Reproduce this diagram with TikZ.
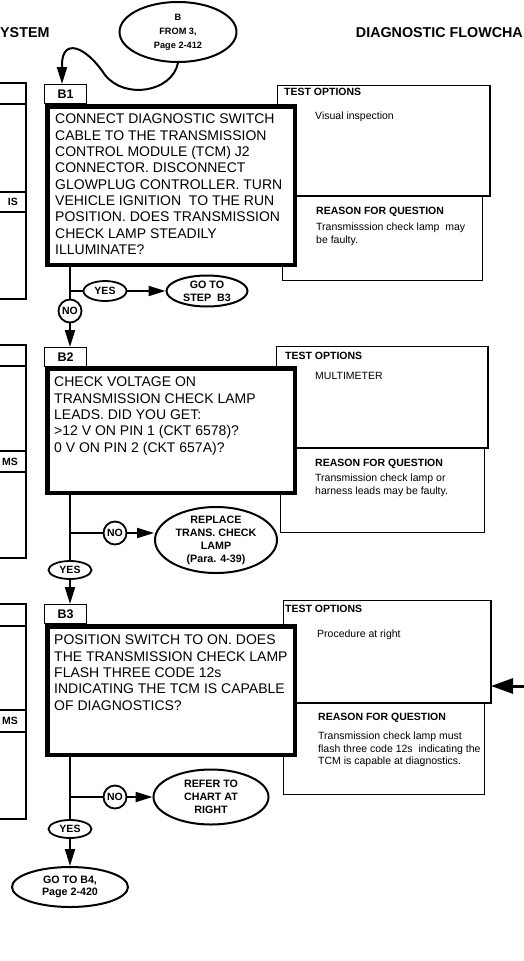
\documentclass[tikz,border=0pt]{standalone}
\usepackage{fontspec}
\setmainfont{Liberation Sans}
\usetikzlibrary{arrows.meta,shapes.geometric}
\begin{document}
\begin{tikzpicture}[x=1pt,y=-1pt,
  hdr/.style={inner sep=0pt, font=\fontsize{14.3}{16}\selectfont\bfseries},
  side/.style={line width=1.3pt},
  sidetext/.style={inner sep=0pt, anchor=east, font=\fontsize{10.5}{12}\selectfont\bfseries},
  mainbox/.style={draw, line width=4.5pt, fill=white, inner sep=0pt, anchor=north west, minimum width=247.5pt},
  labbox/.style={draw, line width=1.3pt, fill=white, inner sep=0pt, minimum width=41.7pt, minimum height=18.7pt, anchor=north west, font=\fontsize{12.5}{14}\selectfont\bfseries},
  maintext/.style={inner sep=0pt, anchor=north west, align=left, font=\fontsize{14}{16.3}\selectfont},
  optbox/.style={draw, line width=1.4pt, fill=white, inner sep=0pt, anchor=north west},
  optedge/.style={line width=2.4pt},
  opttitle/.style={inner sep=0pt, anchor=north west, font=\fontsize{10.5}{12.5}\selectfont\bfseries},
  opttext/.style={inner sep=0pt, anchor=north west, align=left, font=\fontsize{10.5}{12.5}\selectfont},
  oval/.style={ellipse, draw, line width=2pt, fill=white, inner sep=0pt},
  ovaltext/.style={inner sep=0pt, align=center, font=\fontsize{10.7}{13}\selectfont\bfseries},
  yesoval/.style={ellipse, draw, line width=1.8pt, fill=white, inner sep=0pt, minimum width=43pt, minimum height=20pt, font=\fontsize{10.5}{12}\selectfont\bfseries},
  nocirc/.style={circle, draw, line width=1.8pt, fill=white, inner sep=0pt, minimum size=23pt, font=\fontsize{10.5}{12}\selectfont\bfseries},
  conn/.style={line width=2pt},
  arr/.style={conn, -{Triangle[length=17pt,width=10pt]}},
  bigarr/.style={line width=3pt, -{Triangle[length=22pt,width=15pt]}}
]
\useasboundingbox (0,0) rectangle (524,961);

% headers
\node[hdr, anchor=west] (hl) at (0,33) {YSTEM};
\node[hdr, anchor=east] (hr) at (523,33) {DIAGNOSTIC FLOWCHA};

% left partial boxes
\draw[side] (0,83) -- (26,83) -- (26,299) -- (0,299);
\draw[side] (0,104) -- (26,104) (0,192) -- (26,192) (0,212) -- (26,212);
\node[sidetext] (s1) at (18,202) {IS};
\draw[side] (0,345) -- (26,345) -- (26,558) -- (0,558);
\draw[side] (0,366) -- (26,366) (0,451) -- (26,451) (0,472) -- (26,472);
\node[sidetext] (s2) at (18,462) {MS};
\draw[side] (0,604) -- (26,604) -- (26,819) -- (0,819);
\draw[side] (0,626) -- (26,626) (0,710) -- (26,710) (0,732) -- (26,732);
\node[sidetext] (s3) at (18,721) {MS};

% option boxes
\node[optbox, minimum width=199.6pt, minimum height=83.6pt] (r1) at (282,196) {};
\node[optbox, minimum width=211.6pt, minimum height=109.6pt] (t1) at (277,85) {};
\draw[optedge] (t1.north east) -- (t1.south east) -- (t1.south west);
\node[optbox, minimum width=203.6pt, minimum height=83.6pt] (r2) at (280,448) {};
\node[optbox, minimum width=210.6pt, minimum height=100.6pt] (t2) at (276,346) {};
\draw[optedge] (t2.north east) -- (t2.south east) -- (t2.south west);
\node[optbox, minimum width=200.6pt, minimum height=90.6pt] (r3) at (283,703) {};
\node[optbox, minimum width=206.6pt, minimum height=101.6pt] (t3) at (283,600) {};
\draw[optedge] (t3.north east) -- (t3.south east) -- (t3.south west);

\node[opttitle] (t1h) at (284,88) {TEST OPTIONS};
\node[opttext] (t1c) at (315,112) {Visual inspection};
\node[opttitle] (r1h) at (316,207) {REASON FOR QUESTION};
\node[opttext] (r1c) at (316,223) {Transmisssion check lamp\ \ may\\be faulty.};

\node[opttitle] (t2h) at (285,352) {TEST OPTIONS};
\node[opttext] (t2c) at (315,372) {MULTIMETER};
\node[opttitle] (r2h) at (315,459) {REASON FOR QUESTION};
\node[opttext] (r2c) at (315,474) {Transmission check lamp or\\harness leads may be faulty.};

\node[opttitle] (t3h) at (285,605) {TEST OPTIONS};
\node[opttext] (t3c) at (317,630) {Procedure at right};
\node[opttitle] (r3h) at (318,713) {REASON FOR QUESTION};
\node[opttext] (r3c) at (318,732) {Transmission check lamp must\\flash three code 12s\ \ indicating the\\TCM is capable at diagnostics.};

% step labels and main boxes
\node[labbox] (b1lab) at (44,84) {B1};
\node[mainbox, minimum height=158.5pt] (b1) at (45,104) {};
\node[labbox] (b2lab) at (44,347) {B2};
\node[mainbox, minimum height=124.5pt] (b2) at (45,366) {};
\node[labbox] (b3lab) at (44,604) {B3};
\node[mainbox, minimum height=128.5pt] (b3) at (45,624) {};

\node[maintext] (b1t) at (55,114) {CONNECT DIAGNOSTIC SWITCH\\CABLE TO THE TRANSMISSION\\CONTROL MODULE (TCM) J2\\CONNECTOR. DISCONNECT\\GLOWPLUG CONTROLLER. TURN\\VEHICLE IGNITION\ \ TO THE RUN\\POSITION. DOES TRANSMISSION\\CHECK LAMP STEADILY\\ILLUMINATE?};
\node[maintext] (b2t) at (54,377) {CHECK VOLTAGE ON\\TRANSMISSION CHECK LAMP\\LEADS. DID YOU GET:\\>12 V ON PIN 1 (CKT 6578)?\\0 V ON PIN 2 (CKT 657A)?};
\node[maintext] (b3t) at (54,635) {POSITION SWITCH TO ON. DOES\\THE TRANSMISSION CHECK LAMP\\FLASH THREE CODE 12s\\INDICATING THE TCM IS CAPABLE\\OF DIAGNOSTICS?};

% ovals
\node[oval, minimum width=117pt, minimum height=60pt] (top) at (178,32) {};
\node[ovaltext, font=\fontsize{9.2}{14}\selectfont\bfseries] (topt) at (top) {B\\FROM 3,\\Page 2-412};
\node[oval, minimum width=81pt, minimum height=31pt] (go1) at (207,291) {};
\node[ovaltext] (go1t) at (go1) {GO TO\\STEP\ \ B3};
\node[oval, minimum width=122pt, minimum height=66pt] (rep) at (216,540) {};
\node[ovaltext] (rept) at (rep) {REPLACE\\TRANS. CHECK\\LAMP\\(Para. 4-39)};
\node[oval, minimum width=115pt, minimum height=55pt] (ref) at (211,797) {};
\node[ovaltext] (reft) at (ref) {REFER TO\\CHART AT\\RIGHT};
\node[oval, minimum width=116pt, minimum height=40pt] (gob4) at (70,887) {};
\node[ovaltext, font=\fontsize{10.7}{12}\selectfont\bfseries] (gob4t) at (gob4) {GO TO B4,\\Page 2-420};

\node[yesoval] (yes1) at (105,291) {YES};
\node[nocirc] (no1) at (70,311) {NO};
\node[nocirc] (no2) at (115,533) {NO};
\node[yesoval, minimum height=18pt] (yes2) at (70,570) {YES};
\node[nocirc] (no3) at (115,797) {NO};
\node[yesoval, minimum height=18pt] (yes3) at (70,829) {YES};

\coordinate (j1) at (70,291);
\coordinate (j2) at (70,533);
\coordinate (j3) at (70,797);
\coordinate (rin) at (524,686);

% connectors
\draw[arr] (top.south) .. controls (172,92) and (125,100) .. (105,75) .. controls (85,45) and (62,38) .. (62,65) -- ([xshift=-3.5pt]b1lab.north);

\draw[conn] (b1.south -| no1) -- (no1.north);
\draw[conn] (j1) -- (yes1.west);
\draw[arr] (yes1.east) -- (go1.west);
\draw[arr] (no1.south) -- (no1.south |- b2lab.north);

\draw[conn] (b2.south -| yes2) -- (yes2.north);
\draw[conn] (j2) -- (no2.west);
\draw[arr] (no2.east) -- (no2.east -| rep.west);
\draw[arr] (yes2.south) -- (yes2.south |- b3lab.north);

\draw[conn] (b3.south -| yes3) -- (yes3.north);
\draw[conn] (j3) -- (no3.west);
\draw[arr] (no3.east) -- (ref.west);
\draw[arr] (yes3.south) -- (gob4.north);

\draw[bigarr] (rin) -- (rin -| t3.east);
\end{tikzpicture}
\end{document}
